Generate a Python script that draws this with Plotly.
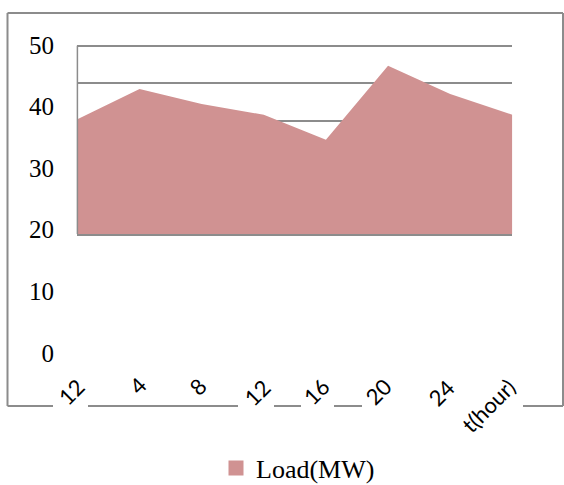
import plotly.graph_objects as go

# ---- data ----
hours = ["12", "4", "8", "12", "16", "20", "24", "t(hour)"]
load_mw = [38.3, 43.1, 40.7, 39.0, 35.0, 46.8, 42.3, 39.0]
value_ticks = [0, 10, 20, 30, 40, 50]
series_name = "Load(MW)"

# ---- canvas helpers (pixel -> paper fraction) ----
W, H = 564, 485


def fx(p):
    return p / W


def fy(p):
    return 1 - p / H


AREA = "#D09292"
GRID = "#8C8C8C"
SERIF = "Liberation Serif"
SANS = "Lato"

positions = list(range(len(load_mw)))

# value axis of the area: 20..50 with a grid every 6 units; a little headroom
# above 50 keeps the top grid line from being dropped at the range edge
Y_LO, Y_HI, Y_TOP = 20, 50, 50.5
PX_LO, PX_HI = 234.0, 45.7
PX_LEFT, PX_RIGHT = 77.4, 512.3
px_per_unit = (PX_LO - PX_HI) / (Y_HI - Y_LO)
px_top = PX_LO - (Y_TOP - Y_LO) * px_per_unit

fig = go.Figure()

# filled load profile
fig.add_trace(go.Scatter(
    x=positions, y=load_mw, mode="lines", fill="tozeroy",
    line=dict(width=0, color=AREA), fillcolor=AREA,
    showlegend=False, hoverinfo="x+y",
))

# legend entry with a square swatch
fig.add_trace(go.Scatter(
    x=[None], y=[None], mode="markers", name=series_name,
    marker=dict(symbol="square", size=15, color=AREA),
))

# carrier trace so the value-label axis is drawn
fig.add_trace(go.Scatter(
    x=[None], y=[None], yaxis="y2", showlegend=False, hoverinfo="skip",
))

# rotated hour labels under the plot, positioned on the category axis
label_dx = [-6, -2, -4, -7, -10, -10, -9, -24]
label_cy = [391, 385, 386, 392, 391, 391, 392, 405]
annotations = []
for i, (txt, dx, cy) in enumerate(zip(hours, label_dx, label_cy)):
    annotations.append(dict(
        xref="x", x=positions[i], xshift=dx,
        yref="paper", y=fy(cy),
        text=txt, showarrow=False, textangle=-45,
        xanchor="center", yanchor="middle",
        font=dict(family=SANS, size=22, color="black"),
    ))

# outer frame; bottom edge is broken where the labels sit
frame = [
    (7.5, 13, 563, 13),
    (7.5, 13, 7.5, 406),
    (563, 13, 563, 406),
    (7.5, 406, 53, 406),
    (88, 406, 238, 406),
    (274, 406, 301, 406),
    (334, 406, 362, 406),
    (523, 406, 563, 406),
]
shapes = [
    dict(type="line", xref="paper", yref="paper",
         x0=fx(a), y0=fy(b), x1=fx(c), y1=fy(d),
         line=dict(color=GRID, width=2))
    for a, b, c, d in frame
]
# left edge of the plotting area, from the baseline up to the top grid line
shapes.append(dict(
    type="line", xref="paper", yref="paper",
    x0=fx(PX_LEFT), x1=fx(PX_LEFT), y0=fy(PX_LO), y1=fy(PX_HI),
    line=dict(color=GRID, width=1.5),
))

fig.update_layout(
    width=W, height=H,
    margin=dict(l=0, r=0, t=0, b=0, autoexpand=False),
    paper_bgcolor="white", plot_bgcolor="rgba(0,0,0,0)",
    xaxis=dict(
        domain=[fx(PX_LEFT), fx(PX_RIGHT)], range=[0, len(load_mw) - 1],
        showgrid=False, zeroline=False, showticklabels=False, ticks="",
        showline=True, linecolor=GRID, linewidth=1.5,
    ),
    yaxis=dict(
        domain=[fy(PX_LO), fy(px_top)], range=[Y_LO, Y_TOP],
        tick0=Y_LO, dtick=6, showgrid=True, gridcolor=GRID, gridwidth=1.5,
        zeroline=False, showticklabels=False, ticks="",
        showline=False,
    ),
    yaxis2=dict(
        domain=[fy(352.8), fy(45)], range=[0, 50],
        anchor="free", position=fx(54),
        tickvals=value_ticks, ticks="",
        showgrid=False, zeroline=False, showline=False,
        tickfont=dict(family=SERIF, size=25, color="black"),
    ),
    legend=dict(
        orientation="h", x=fx(298), xanchor="center",
        y=fy(468), yanchor="middle",
        font=dict(family=SERIF, size=26, color="black"),
        bgcolor="rgba(0,0,0,0)",
    ),
    annotations=annotations,
    shapes=shapes,
)

fig.write_html("out.html")
